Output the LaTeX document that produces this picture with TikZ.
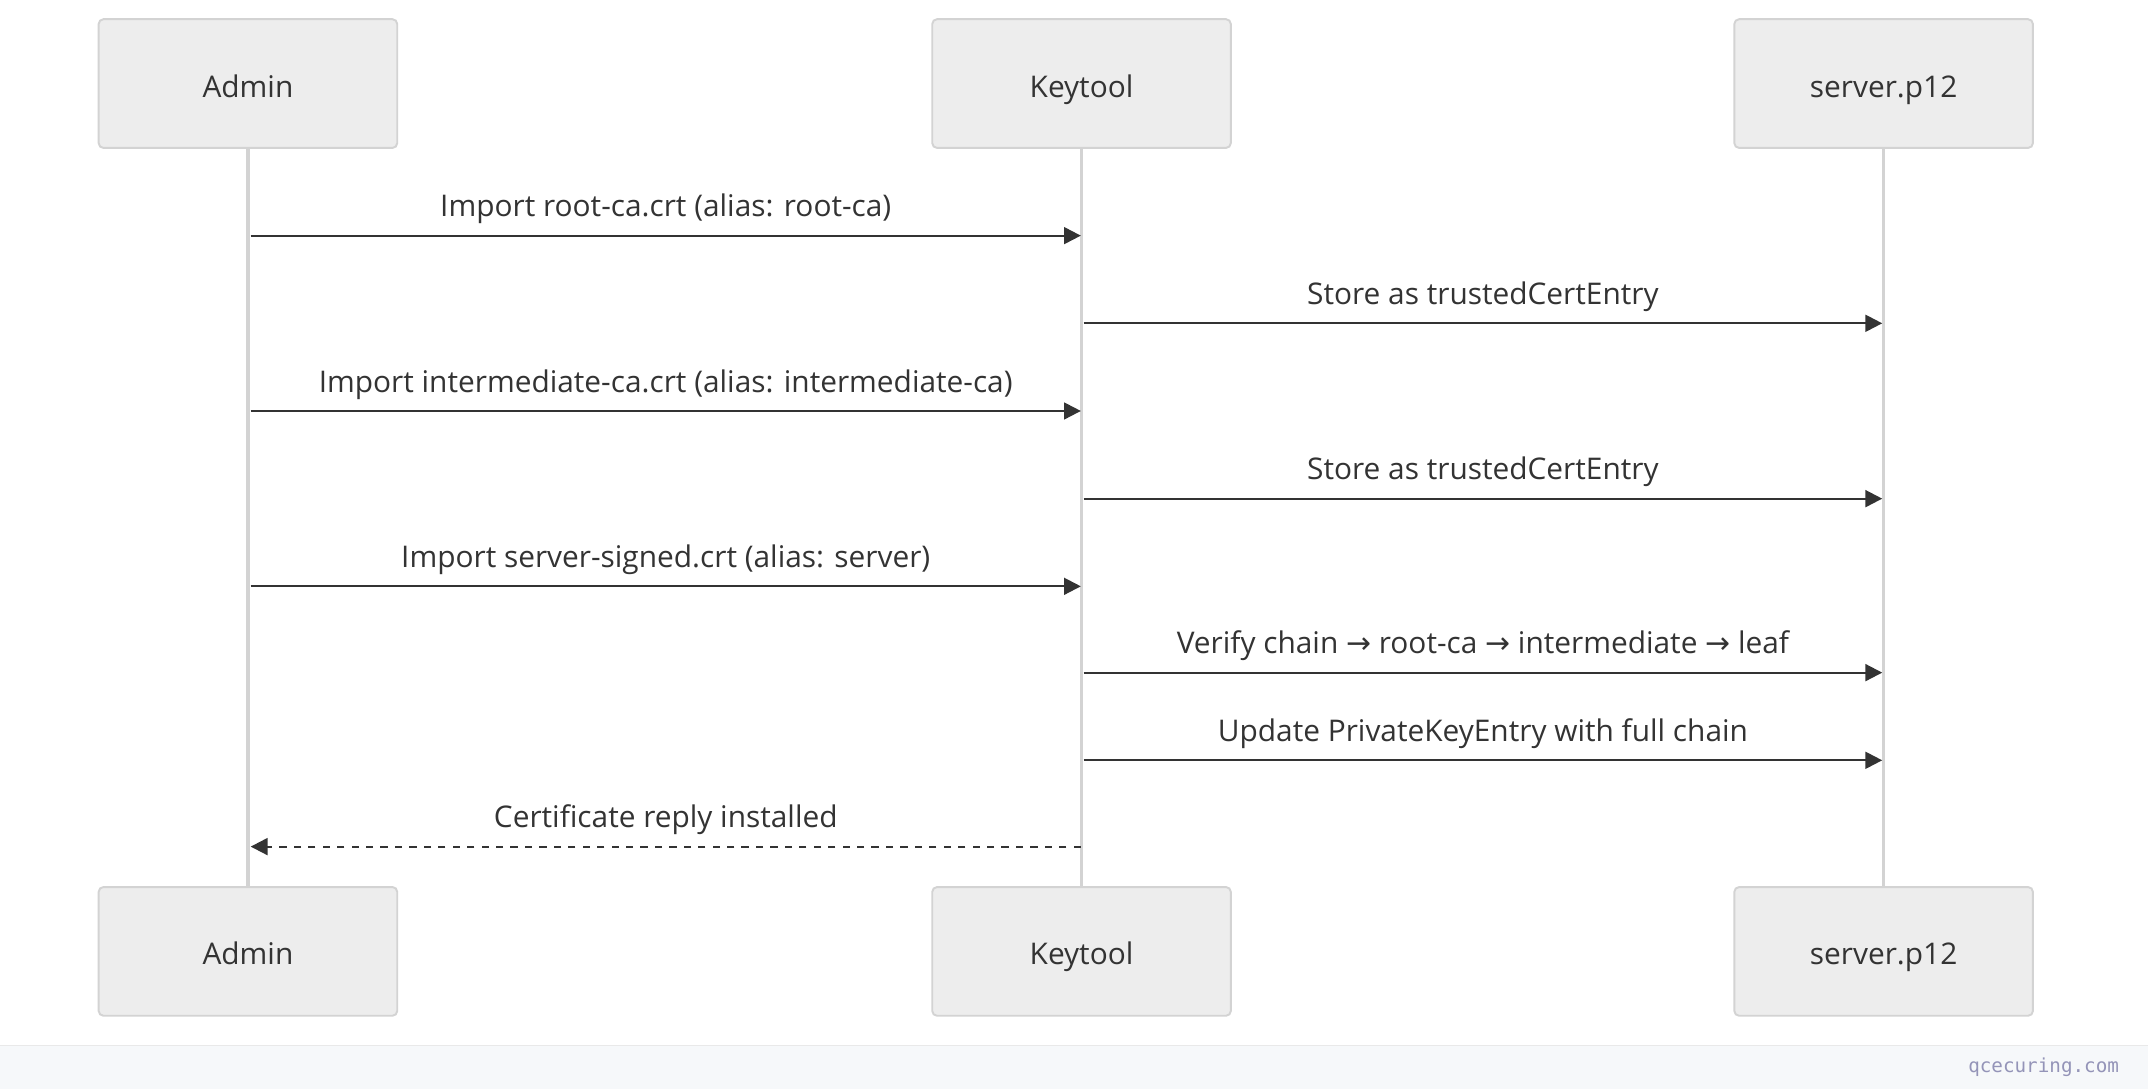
\documentclass[tikz,border=0pt]{standalone}
\usepackage{fontspec}
\setmainfont{Open Sans}
\setmonofont{DejaVu Sans Mono}
\newfontfamily\arrowfont{DejaVu Sans}
\usetikzlibrary{arrows.meta}
\definecolor{boxfill}{HTML}{EDEDED}
\definecolor{boxline}{HTML}{D3D3D3}
\definecolor{msgline}{HTML}{333333}
\definecolor{footfill}{HTML}{F6F8FA}
\newcommand{\arr}{{\arrowfont\char"2192}}
\begin{document}
\begin{tikzpicture}[x=0.02cm, y=-0.02cm,
    actor/.style={rectangle, rounded corners=2pt, draw=boxline, line width=0.8pt, fill=boxfill,
        minimum width=4.36cm, minimum height=1.88cm, text height=2.1ex, text depth=0ex,
        font=\fontsize{12.4}{14}\selectfont, text=msgline},
    life/.style={draw=boxline, line width=1.5pt},
    msg/.style={draw=msgline, line width=0.9pt, -{Triangle[length=7pt, width=7pt]}},
    reply/.style={msg, dashed},
    lbl/.style={font=\fontsize{12.4}{14}\selectfont, text=msgline, anchor=base}
]
    \useasboundingbox (0,0) rectangle (1568,795);
    \fill[footfill] (0,763) rectangle (1568,795);
    \draw[boxline!50, line width=0.4pt] (0,763) -- (1568,763);
    \node[font=\ttfamily\fontsize{8}{9}\selectfont, text=gray!80!blue!70, anchor=east] (foot) at (1553,779) {qcecuring.com};

    % lifelines
    \draw[life] (181,108) -- (181,648);
    \draw[life] (789.5,108) -- (789.5,648);
    \draw[life] (1375,108) -- (1375,648);

    % actors top and bottom
    \node[actor] (admin) at (181,61) {Admin};
    \node[actor] (keytool) at (789.5,61) {Keytool};
    \node[actor] (store) at (1375,61) {server.p12};
    \node[actor] (admin2) at (181,694.5) {Admin};
    \node[actor] (keytool2) at (789.5,694.5) {Keytool};
    \node[actor] (store2) at (1375,694.5) {server.p12};

    % message anchors
    \foreach \y [count=\i] in {172,236,300,364,428,491,555,618} {
        \coordinate (a\i) at (183,\y);
        \coordinate (k\i) at (789,\y);
        \coordinate (kl\i) at (791,\y);
        \coordinate (s\i) at (1374,\y);
    }

    % messages
    \draw[msg] (a1) -- node[lbl, above=1pt] (m1) {Import root-ca.crt (alias: root-ca)} (k1);
    \draw[msg] (kl2) -- node[lbl, above=1pt] (m2) {Store as trustedCertEntry} (s2);
    \draw[msg] (a3) -- node[lbl, above=1pt] (m3) {Import intermediate-ca.crt (alias: intermediate-ca)} (k3);
    \draw[msg] (kl4) -- node[lbl, above=1pt] (m4) {Store as trustedCertEntry} (s4);
    \draw[msg] (a5) -- node[lbl, above=1pt] (m5) {Import server-signed.crt (alias: server)} (k5);
    \draw[msg] (kl6) -- node[lbl, above=1pt] (m6) {Verify chain \arr{} root-ca \arr{} intermediate \arr{} leaf} (s6);
    \draw[msg] (kl7) -- node[lbl, above=1pt] (m7) {Update PrivateKeyEntry with full chain} (s7);
    \draw[reply] (k8) -- node[lbl, above=1pt] (m8) {Certificate reply installed} (a8);
\end{tikzpicture}
\end{document}
